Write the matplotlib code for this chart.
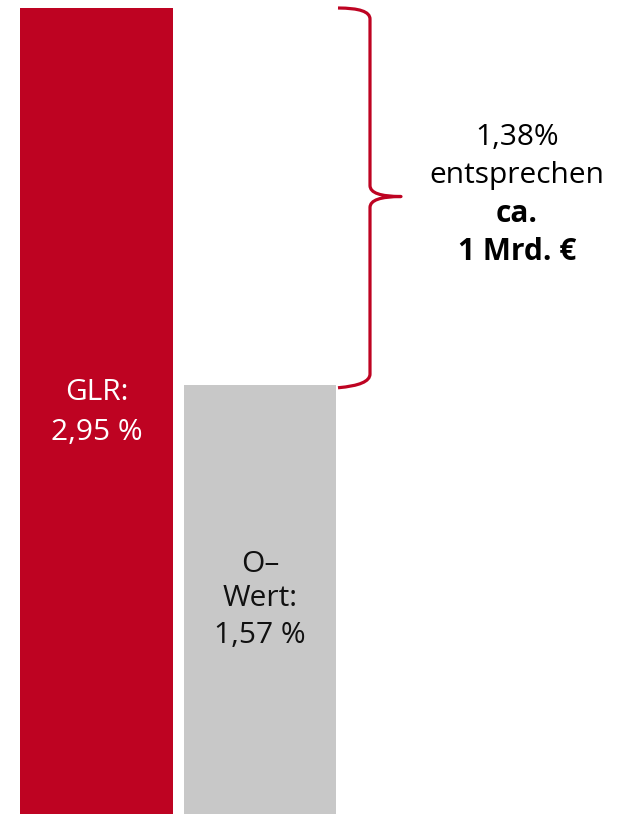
import matplotlib
matplotlib.use("Agg")
import matplotlib.pyplot as plt
from matplotlib.path import Path
from matplotlib.patches import PathPatch

categories = ["GLR", "O-Wert"]
values = [2.95, 1.57]
label_lines = [["GLR:", "2,95 %"], ["O–", "Wert:", "1,57 %"]]
bar_colors = ["#BE0322", "#C8C8C8"]
label_colors = ["white", "#111111"]
diff_lines = ["1,38%", "entsprechen", "ca.", "1 Mrd. €"]
diff_bold = [False, False, True, True]

plt.rcParams['font.family'] = ['Open Sans', 'DejaVu Sans']

H = 814
YTOP = 2.95 * H / 806


def py(p):
    """pixel row -> data y"""
    return (H - p) / H * YTOP


def px(p):
    return (p - 96.5) / 163.5


fig = plt.figure(figsize=(6.31, 8.14), dpi=100)
ax = fig.add_axes([0, 0, 1, 1])
ax.set_axis_off()

x = [0, 1]
ax.bar(x, values, width=0.932, color=bar_colors, linewidth=0)
ax.set_xlim(px(0), px(631))
ax.set_ylim(0, YTOP)

FS = 21.5
baselines = [[400, 440], [572, 606, 643]]
for i, lines in enumerate(label_lines):
    for line, b in zip(lines, baselines[i]):
        ax.text(x[i], py(b), line, ha="center", va="baseline",
                color=label_colors[i], fontsize=FS)

# brace between the two bar tops
y0, y1 = values[1], values[0]
ym = (y0 + y1) / 2
xs, xv, xt = px(338), px(370), px(401)
r = 0.04
verts = [
    (xs, y1), (xv, y1), (xv, y1 - r),
    (xv, ym + r),
    (xv, ym), (xt, ym),
    (xv, ym), (xv, ym - r),
    (xv, y0 + r),
    (xv, y0), (xs, y0 - 0.01),
]
codes = [Path.MOVETO, Path.CURVE3, Path.CURVE3,
         Path.LINETO,
         Path.CURVE3, Path.CURVE3,
         Path.CURVE3, Path.CURVE3,
         Path.LINETO,
         Path.CURVE3, Path.CURVE3]
ax.add_patch(PathPatch(Path(verts, codes), facecolor="none", edgecolor="#BE0322",
                       linewidth=2.3, capstyle="butt", joinstyle="round"))

diff_baselines = [145, 183, 222, 260]
for line, b, bold in zip(diff_lines, diff_baselines, diff_bold):
    ax.text(px(517), py(b), line, ha="center", va="baseline", fontsize=FS,
            color="black", fontweight="bold" if bold else "normal")

fig.savefig("out.png", dpi=100)
